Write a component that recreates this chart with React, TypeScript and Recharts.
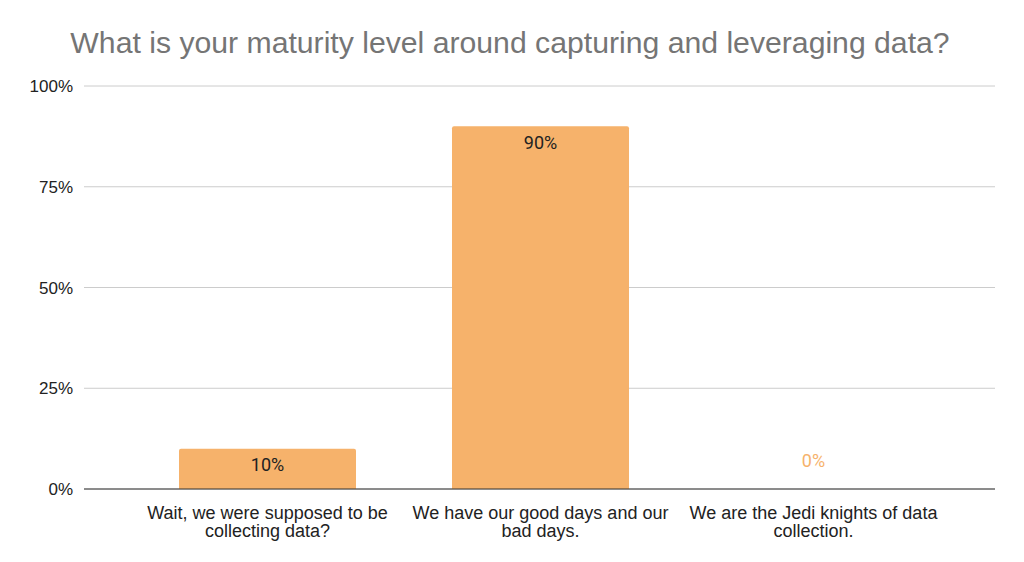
import React from "react";
import { BarChart, Bar, XAxis, YAxis, CartesianGrid, LabelList } from "recharts";

const categories = [
  "Wait, we were supposed to be collecting data?",
  "We have our good days and our bad days.",
  "We are the Jedi knights of data collection.",
];
const shares = [0.1, 0.9, 0];
const yTicks = [0, 0.25, 0.5, 0.75, 1];
const title = "What is your maturity level around capturing and leveraging data?";

const data = categories.map((c, i) => ({ name: c, value: shares[i] }));

const BAR = "#F6B26B";
const FONT = "'Liberation Sans', Arial, sans-serif";

function wrap(text: string, maxChars: number): string[] {
  const words = text.split(" ");
  const lines: string[] = [];
  let cur = "";
  for (const w of words) {
    const next = cur ? cur + " " + w : w;
    if (next.length > maxChars && cur) {
      lines.push(cur);
      cur = w;
    } else cur = next;
  }
  if (cur) lines.push(cur);
  return lines;
}

const XTick = (props: any) => {
  const { x, y, payload } = props;
  const lines = wrap(String(payload.value), 31);
  return (
    <text x={x} y={y} textAnchor="middle" fontFamily={FONT} fontSize={18} fill="#222">
      {lines.map((l, i) => (
        <tspan key={i} x={x} dy={i === 0 ? 22 : 18}>
          {l}
        </tspan>
      ))}
    </text>
  );
};

const ValueLabel = (props: any) => {
  const { x, y, width, height, value } = props;
  const cx = Number(x) + Number(width) / 2;
  const v = Number(value);
  const txt = `${Math.round(v * 100)}%`;
  if (!v) {
    const base = Number(y) + Number(height || 0);
    return (
      <text x={cx} y={base - 29} textAnchor="middle" dominantBaseline="central" fontFamily="Roboto, sans-serif" fontSize={18} fill={BAR}>
        {txt}
      </text>
    );
  }
  return (
    <text x={cx} y={Number(y) + 16} textAnchor="middle" dominantBaseline="central" fontFamily="Roboto, sans-serif" fontSize={18} fill="#222">
      {txt}
    </text>
  );
};

export default function App() {
  return (
    <div style={{ position: "absolute", left: 0, top: 0, width: 1024, height: 562, background: "#fff" }}>
      <svg width={1024} height={80} style={{ position: "absolute", left: 0, top: 0 }}>
        <text x={510} y={53} textAnchor="middle" fontFamily={FONT} fontSize={30.2} fill="#757575">
          {title}
        </text>
      </svg>
      <BarChart
        width={1024}
        height={562}
        data={data}
        margin={{ top: 86, right: 29, bottom: 13, left: 0 }}
        barCategoryGap={0}
      >
        <CartesianGrid vertical={false} stroke="#cccccc" />
        <XAxis
          dataKey="name"
          tick={<XTick />}
          tickLine={false}
          axisLine={{ stroke: "#333333" }}
          interval={0}
          height={60}
          padding={{ left: 47, right: 45 }}
        />
        <YAxis
          domain={[0, 1]}
          ticks={yTicks}
          tickFormatter={(v: number) => `${Math.round(v * 100)}%`}
          tick={{ fontFamily: FONT, fontSize: 17, fill: "#222" }}
          tickLine={false}
          axisLine={false}
          tickSize={0}
          tickMargin={11}
          width={84}
          interval={0}
        />
        <Bar dataKey="value" fill={BAR} barSize={177} radius={[2, 2, 0, 0]} minPointSize={0.01} isAnimationActive={false}>
          <LabelList dataKey="value" content={<ValueLabel />} />
        </Bar>
      </BarChart>
    </div>
  );
}
